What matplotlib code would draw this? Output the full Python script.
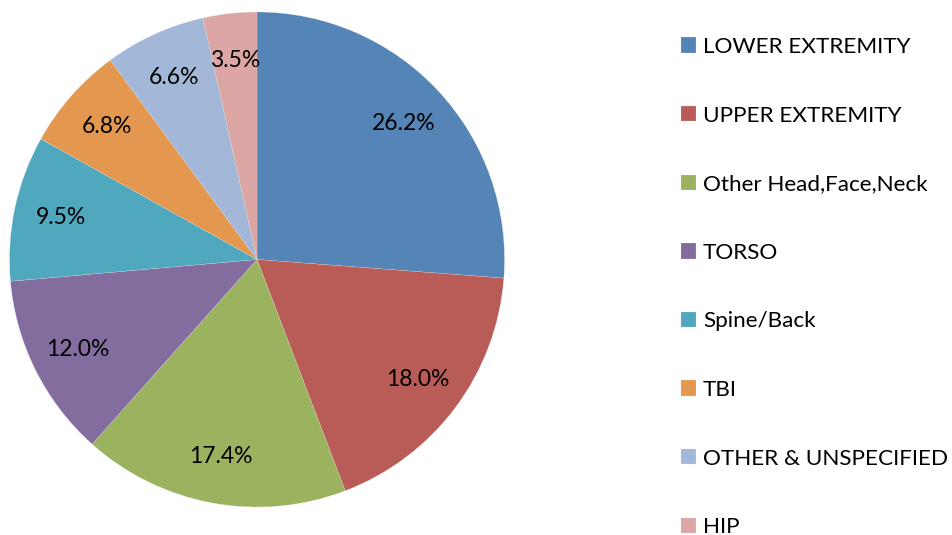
import matplotlib
matplotlib.use("Agg")
import matplotlib.pyplot as plt

categories = ["LOWER EXTREMITY", "UPPER EXTREMITY", "Other Head,Face,Neck", "TORSO",
              "Spine/Back", "TBI", "OTHER & UNSPECIFIED", "HIP"]
values = [26.2, 18.0, 17.4, 12.0, 9.5, 6.8, 6.6, 3.5]
colors = ["#5584b6", "#b95b57", "#9bb25f", "#836c9e", "#4fa8be", "#e3974f", "#a3b7d8", "#dba6a3"]

plt.rcParams['font.family'] = ['Lato', 'DejaVu Sans']

W, H = 953, 535
fig = plt.figure(figsize=(W / 100, H / 100), dpi=100)
ax = fig.add_axes([0, 0, 1, 1])

cx, cy, r = 257, 259.5, 247.5
xmin = -cx / r
ymin = -(H - cy) / r

wedges, texts, autotexts = ax.pie(values, colors=colors, startangle=90, counterclock=False,
                                  autopct='%1.1f%%', pctdistance=0.81, radius=1,
                                  wedgeprops=dict(linewidth=0.15, edgecolor='#e8e8e8'),
                                  textprops=dict(fontsize=16.5, color='black'))
ax.set_xlim(xmin, xmin + W / r)
ax.set_ylim(ymin, ymin + H / r)
ax.set_aspect('auto')
ax.axis('off')

leg = ax.legend(wedges, categories, loc='upper left',
                bbox_to_anchor=(681 / W, 1 - 37 / H), bbox_transform=fig.transFigure,
                frameon=False, fontsize=16.2, handlelength=0.68, handleheight=0.68,
                handletextpad=0.3, labelspacing=2.16, borderpad=0, borderaxespad=0)

fig.savefig("out.png", dpi=100)
